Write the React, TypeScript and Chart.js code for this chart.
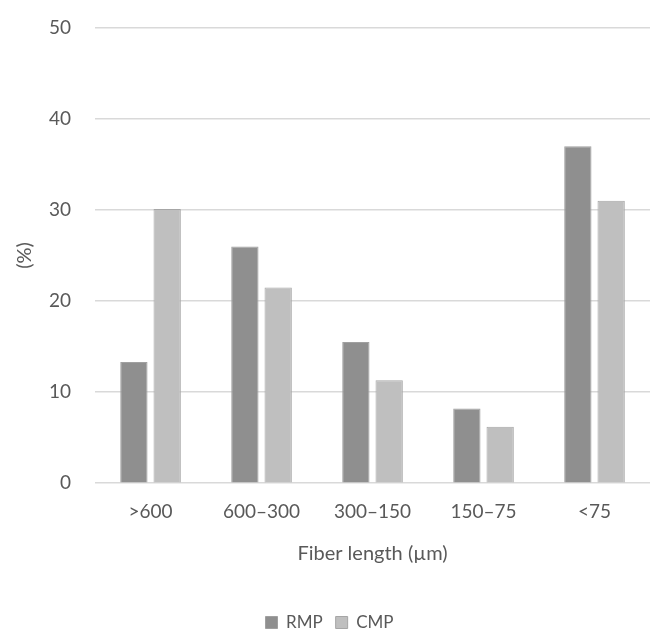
import React, { useEffect, useRef } from "react";
import { Chart, registerables } from "chart.js";

Chart.register(...registerables);

const categories = [">600", "600–300", "300–150", "150–75", "<75"];
const rmpValues = [13.3, 26.0, 15.5, 8.2, 37.0];
const cmpValues = [30.1, 21.5, 11.3, 6.2, 31.0];
const yTicks = [0, 10, 20, 30, 40, 50];

const FONT = "Lato, 'Open Sans', sans-serif";
const TEXT = "#595959";

export default function App() {
  const ref = useRef<HTMLCanvasElement | null>(null);
  useEffect(() => {
    document.body.style.margin = "0";
    const chart = new Chart(ref.current!, {
      type: "bar",
      data: {
        labels: categories,
        datasets: [
          {
            label: "RMP",
            data: rmpValues,
            backgroundColor: "#8f8f8f",
            borderColor: "#a0a0a0",
            borderWidth: 1,
          },
          {
            label: "CMP",
            data: cmpValues,
            backgroundColor: "#bfbfbf",
            borderColor: "#a6a6a6",
            borderWidth: 1,
          },
        ],
      },
      options: {
        animation: false,
        responsive: false,
        maintainAspectRatio: false,
        layout: { padding: { top: 6, right: 6, left: 9, bottom: -10 } },
        datasets: { bar: { categoryPercentage: 0.6, barPercentage: 0.82 } },
        plugins: {
          legend: {
            position: "bottom",
            labels: {
              color: TEXT,
              font: { family: FONT, size: 17 },
              boxWidth: 12,
              boxHeight: 12,
              padding: 13,
            },
          },
          tooltip: { enabled: false },
        },
        scales: {
          x: {
            grid: { display: false, drawTicks: false },
            border: { display: false },
            ticks: { color: TEXT, font: { family: FONT, size: 19 }, padding: 17 },
            title: {
              display: true,
              text: "Fiber length (µm)",
              color: TEXT,
              font: { family: FONT, size: 20 },
              padding: { top: 2, bottom: 35 },
            },
          },
          y: {
            min: 0,
            max: 50,
            afterBuildTicks: (axis: any) => {
              axis.ticks = yTicks.map((v) => ({ value: v }));
            },
            grid: { color: "#d9d9d9", lineWidth: 1.5, drawTicks: false },
            border: { display: false },
            ticks: { color: TEXT, font: { family: FONT, size: 19, lineHeight: 0.4 }, padding: 24 },
            title: {
              display: true,
              text: "(%)",
              color: TEXT,
              font: { family: FONT, size: 20 },
              padding: { top: 4, bottom: -12 },
            },
          },
        },
      },
    });
    return () => chart.destroy();
  }, []);
  return (
    <div style={{ width: 656, height: 631, background: "#fff" }}>
      <canvas ref={ref} width={656} height={631} style={{ width: 656, height: 631 }} />
    </div>
  );
}
